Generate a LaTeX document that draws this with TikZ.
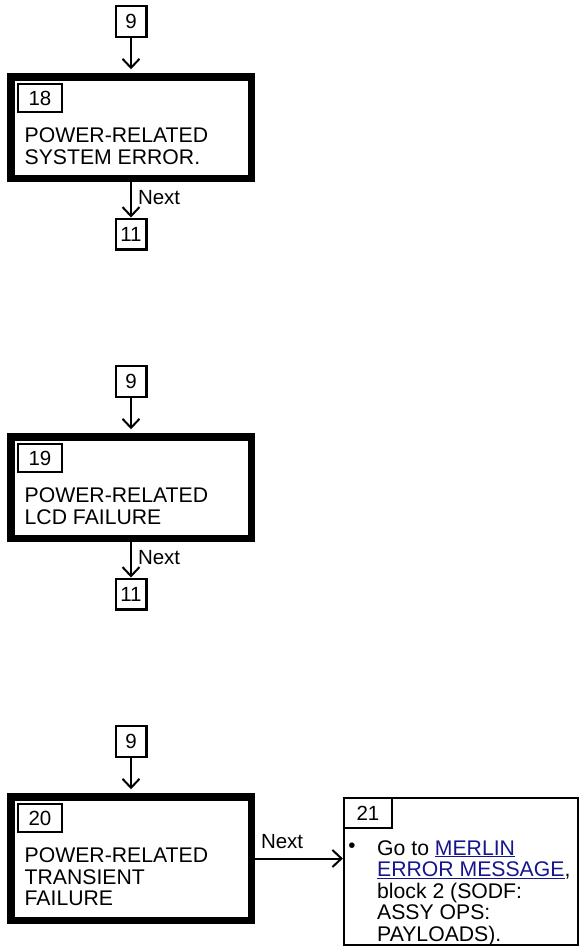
\documentclass[tikz,border=0pt]{standalone}
\usepackage{fontspec}
\setmainfont{Liberation Sans}
\usetikzlibrary{arrows.meta,positioning,calc}
\definecolor{linkblue}{RGB}{22,22,140}
\newcommand{\golink}[1]{\textcolor{linkblue}{\underline{#1}}}

\begin{document}
\begin{tikzpicture}[x=1pt, y=-1pt,
    refbox/.style={draw, line width=2.1pt, minimum width=30.9pt, minimum height=30.9pt, inner sep=0pt, font=\fontsize{20.5}{22}\selectfont},
    numbox/.style={draw, line width=1.9pt, minimum width=44.2pt, minimum height=28.8pt, inner sep=0pt, font=\fontsize{20.5}{22}\selectfont},
    stepbox/.style={draw, line width=7.5pt, minimum width=240.5pt, inner sep=0pt},
    gotobox/.style={draw, line width=2.2pt, minimum width=234pt, minimum height=147pt, inner sep=0pt},
    txt/.style={anchor=north west, align=left, inner sep=0pt, font=\fontsize{21.2}{21.5}\selectfont},
    arr/.style={-{Straight Barb[length=9pt,width=17pt]}, line width=2pt},
    lbl/.style={inner sep=0pt, font=\fontsize{20.5}{22}\selectfont}
]
\useasboundingbox (0,0) rectangle (579,946);

\node[refbox] (r9a) at (131,21.5) {9};
\node[stepbox, minimum height=101.5pt] (b18) at (131,127.5) {};
\node[numbox] (c18) at (40,98) {18};
\node[txt] (t18) at (24.5,127.5) {POWER-RELATED\\SYSTEM ERROR.};
\node[refbox] (r11a) at (131,234) {11};
\draw[arr, shorten >=3.75pt] (r9a) -- (b18);
\draw[arr] (b18) -- node[lbl, anchor=west, xshift=6pt, pos=0.45] {Next} (r11a);

\node[refbox] (r9b) at (131,381.5) {9};
\node[stepbox, minimum height=101.5pt] (b19) at (131,487.5) {};
\node[numbox] (c19) at (40,458) {19};
\node[txt] (t19) at (24.5,487.5) {POWER-RELATED\\LCD FAILURE};
\node[refbox] (r11b) at (131,594) {11};
\draw[arr, shorten >=3.75pt] (r9b) -- (b19);
\draw[arr] (b19) -- node[lbl, anchor=west, xshift=6pt, pos=0.45] {Next} (r11b);

\node[refbox] (r9c) at (131,741.5) {9};
\node[stepbox, minimum height=123.5pt] (b20) at (131,858.5) {};
\node[numbox] (c20) at (40,818) {20};
\node[txt] (t20) at (24.5,847.5) {POWER-RELATED\\TRANSIENT\\FAILURE};
\draw[arr, shorten >=3.75pt] (r9c) -- (b20);

\node[gotobox] (g21) at (461,871.5) {};
\node[numbox, minimum width=48pt, minimum height=30pt] (c21) at (368,813) {21};
\node[lbl] (u21) at (352,848) {\textbullet};
\node[txt] (t21) at (377,840) {Go to \golink{MERLIN}\\\golink{ERROR MESSAGE},\\block 2 (SODF:\\ASSY OPS:\\PAYLOADS).};
\draw[arr] (b20.east) -- node[lbl, anchor=south west, pos=0, xshift=5pt, yshift=9pt] {Next} (b20.east -| g21.west);
\end{tikzpicture}
\end{document}
